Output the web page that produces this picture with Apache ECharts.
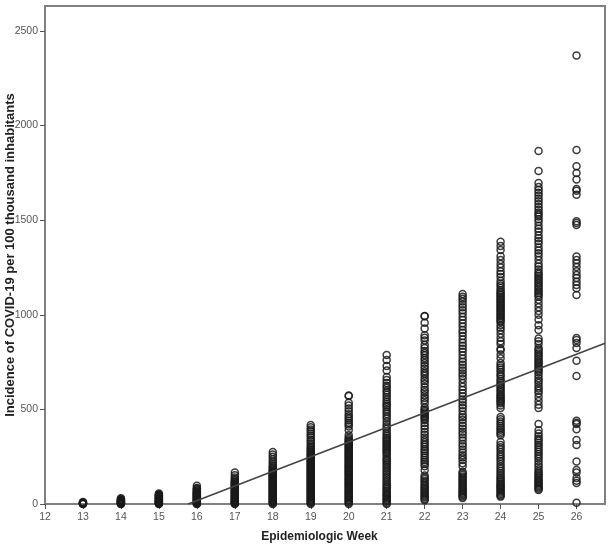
<!DOCTYPE html>
<html>
<head>
<meta charset="utf-8">
<title>Incidence by epidemiologic week</title>
<script src="https://cdn.jsdelivr.net/npm/echarts@6/dist/echarts.min.js"></script>
<style>
  html, body { margin: 0; padding: 0; background: #fff; }
  #main { width: 611px; height: 549px; }
</style>
</head>
<body>
<div id="main"></div>
<script>
var xTicks = [12, 13, 14, 15, 16, 17, 18, 19, 20, 21, 22, 23, 24, 25, 26];
var yTicks = [0, 500, 1000, 1500, 2000, 2500];

// incidence values, one list per week
var week13 = [0, 1, 2, 3, 4, 5, 6, 8, 10];
var week14 = [0, 1, 2, 4, 5, 7, 9, 10, 12, 14, 16, 18, 20, 23, 26, 30];
var week15 = [0, 2, 4, 6, 8, 10, 13, 15, 18, 20, 23, 25, 28, 30, 33, 36, 39, 42, 45, 48, 52, 56];
var week16 = [0, 2, 4, 7, 9, 12, 15, 18, 21, 24, 27, 30, 33, 36, 39, 42, 45, 48, 51, 54, 57, 60, 64, 68, 72, 76, 80, 85, 97];
var week17 = [0, 3, 6, 9, 12, 15, 18, 21, 25, 29, 33, 37, 41, 45, 49, 53, 57, 61, 65, 69, 73, 77, 81, 85, 89, 93, 97, 101, 105, 109, 113, 118, 124, 131, 140, 152, 166];
var week18 = [0, 4, 8, 12, 16, 20, 24, 28, 32, 36, 40, 44, 48, 52, 56, 60, 64, 68, 72, 76, 80, 84, 88, 92, 96, 100, 104, 108, 112, 116, 120, 124, 128, 132, 136, 140, 144, 148, 152, 156, 160, 164, 168, 172, 177, 183, 190, 197, 205, 214, 224, 236, 250, 262, 275];
var week19 = [0, 5, 10, 15, 20, 25, 30, 35, 40, 45, 50, 55, 60, 65, 70, 75, 80, 85, 90, 95, 100, 105, 110, 115, 120, 125, 130, 135, 140, 145, 150, 155, 160, 165, 170, 175, 180, 185, 190, 195, 200, 205, 210, 215, 220, 225, 230, 236, 242, 248, 254, 260, 266, 272, 279, 286, 293, 301, 310, 320, 331, 340, 352, 362, 372, 384, 394, 406, 418];
var week20 = [0, 6, 12, 18, 24, 30, 36, 42, 48, 54, 60, 66, 72, 78, 84, 90, 96, 102, 108, 114, 120, 126, 132, 138, 144, 150, 156, 162, 168, 174, 180, 186, 192, 198, 204, 210, 216, 222, 228, 234, 240, 246, 252, 258, 264, 270, 276, 282, 288, 294, 300, 306, 312, 318, 324, 330, 336, 342, 350, 364, 391, 410, 420, 430, 441, 452, 463, 475, 490, 505, 520, 535, 571, 573];
var week21 = [0, 7, 14, 21, 28, 35, 42, 49, 56, 63, 72, 80, 88, 96, 106, 116, 126, 136, 146, 156, 166, 176, 186, 196, 206, 214, 224, 232, 240, 252, 264, 272, 280, 288, 296, 304, 312, 320, 328, 336, 344, 352, 362, 372, 385, 398, 410, 422, 436, 452, 462, 476, 488, 500, 512, 520, 530, 541, 552, 565, 578, 590, 600, 615, 625, 640, 655, 671, 705, 729, 761, 787];
var week22 = [20, 27, 34, 41, 48, 55, 62, 70, 78, 86, 94, 102, 112, 122, 132, 140, 150, 178, 200, 212, 222, 232, 244, 256, 268, 280, 290, 302, 314, 326, 338, 352, 366, 380, 398, 412, 428, 444, 452, 460, 468, 476, 484, 492, 500, 510, 532, 548, 560, 575, 590, 603, 617, 636, 650, 662, 678, 690, 702, 716, 730, 745, 760, 772, 786, 798, 808, 824, 840, 864, 878, 892, 928, 958, 992, 994];
var week23 = [32, 39, 46, 53, 60, 67, 74, 82, 90, 98, 106, 114, 122, 130, 138, 146, 154, 162, 171, 200, 215, 232, 246, 258, 272, 288, 305, 318, 335, 352, 368, 382, 398, 412, 428, 445, 458, 472, 490, 508, 522, 538, 552, 570, 585, 602, 620, 640, 660, 676, 690, 705, 720, 736, 752, 768, 786, 805, 820, 836, 852, 870, 888, 905, 920, 938, 955, 972, 990, 1008, 1024, 1040, 1055, 1070, 1085, 1096, 1110];
var week24 = [39, 45, 52, 59, 66, 73, 80, 87, 94, 101, 108, 116, 124, 133, 142, 152, 163, 174, 186, 198, 212, 226, 238, 250, 262, 275, 288, 300, 312, 328, 364, 372, 382, 392, 402, 412, 424, 436, 448, 460, 507, 520, 533, 540, 548, 556, 564, 572, 580, 590, 600, 610, 620, 630, 640, 650, 660, 675, 685, 698, 710, 722, 732, 745, 770, 790, 812, 820, 845, 860, 878, 900, 918, 932, 945, 960, 968, 976, 984, 992, 1000, 1008, 1016, 1024, 1032, 1040, 1048, 1056, 1064, 1072, 1080, 1088, 1096, 1104, 1112, 1120, 1130, 1142, 1155, 1165, 1180, 1200, 1215, 1230, 1250, 1268, 1290, 1310, 1342, 1364, 1386];
var week25 = [74, 80, 87, 94, 101, 108, 115, 122, 130, 138, 146, 154, 162, 172, 184, 198, 212, 226, 240, 252, 264, 276, 288, 300, 312, 324, 336, 345, 358, 372, 390, 423, 507, 525, 545, 565, 585, 598, 610, 622, 640, 652, 665, 680, 695, 705, 715, 725, 735, 745, 755, 765, 775, 785, 795, 805, 815, 825, 845, 860, 875, 920, 945, 975, 1000, 1020, 1040, 1060, 1080, 1095, 1105, 1115, 1125, 1135, 1145, 1155, 1165, 1175, 1185, 1195, 1205, 1215, 1225, 1240, 1255, 1270, 1290, 1310, 1325, 1340, 1355, 1375, 1390, 1405, 1420, 1440, 1455, 1470, 1490, 1505, 1520, 1530, 1540, 1555, 1570, 1585, 1600, 1615, 1630, 1645, 1660, 1675, 1696, 1760, 1866];
var week26 = [7, 111, 123, 137, 167, 180, 224, 312, 338, 395, 423, 430, 440, 676, 757, 824, 851, 867, 877, 1105, 1140, 1157, 1175, 1195, 1210, 1230, 1252, 1273, 1290, 1308, 1475, 1485, 1495, 1635, 1655, 1665, 1715, 1750, 1785, 1871, 2370];

// fit line ends
var fitLine = [[15.77, 0], [26.75, 850]];

var weeks = { 13: week13, 14: week14, 15: week15, 16: week16, 17: week17, 18: week18, 19: week19, 20: week20, 21: week21, 22: week22, 23: week23, 24: week24, 25: week25, 26: week26 };

var series = [];
Object.keys(weeks).forEach(function (w) {
  series.push({
    type: 'scatter',
    symbol: 'circle',
    symbolSize: 7,
    silent: true,
    itemStyle: { color: 'rgba(255,255,255,0)', borderColor: '#1a1a1a', borderWidth: 1.5, opacity: 0.85 },
    data: weeks[w].map(function (v) { return [Number(w), v]; })
  });
});
series.push({
  type: 'line',
  data: fitLine,
  showSymbol: false,
  silent: true,
  z: 5,
  lineStyle: { color: '#444444', width: 1.6 }
});

var axisColor = '#808080';
var labelColor = '#555555';
var font = '"Liberation Sans", Arial, sans-serif';

var chart = echarts.init(document.getElementById('main'));
chart.setOption({
  animation: false,
  backgroundColor: '#ffffff',
  grid: { left: 45, right: 6, top: 6, bottom: 45, outerBoundsMode: 'none', containLabel: false, show: true, borderColor: axisColor, borderWidth: 2, backgroundColor: 'transparent' },
  xAxis: {
    type: 'value',
    min: 12,
    max: 26.75,
    name: 'Epidemiologic Week',
    nameLocation: 'middle',
    nameGap: 27,
    nameMoveOverlap: false,
    nameTextStyle: { color: '#222222', fontFamily: font, fontWeight: 'bold', fontSize: 12, padding: [0, 11, 0, 0] },
    splitLine: { show: false },
    axisLine: { show: true, onZero: false, lineStyle: { color: axisColor, width: 2 } },
    axisTick: { show: true, length: 5, customValues: xTicks, lineStyle: { color: '#555555', width: 1 } },
    axisLabel: { color: labelColor, fontFamily: font, fontSize: 10.5, margin: 8, customValues: xTicks, formatter: function (v) { return String(v); } }
  },
  yAxis: {
    type: 'value',
    min: 0,
    max: 2632,
    name: 'Incidence of COVID-19 per 100 thousand inhabitants',
    nameLocation: 'middle',
    nameGap: 28,
    nameMoveOverlap: false,
    nameTextStyle: { color: '#222222', fontFamily: font, fontWeight: 'bold', fontSize: 13 },
    splitLine: { show: false },
    axisLine: { show: true, onZero: false, lineStyle: { color: axisColor, width: 2 } },
    axisTick: { show: true, length: 5, customValues: yTicks, lineStyle: { color: '#555555', width: 1 } },
    axisLabel: { color: labelColor, fontFamily: font, fontSize: 10.5, margin: 7, customValues: yTicks, formatter: function (v) { return String(v); } }
  },
  series: series
});
</script>
</body>
</html>
